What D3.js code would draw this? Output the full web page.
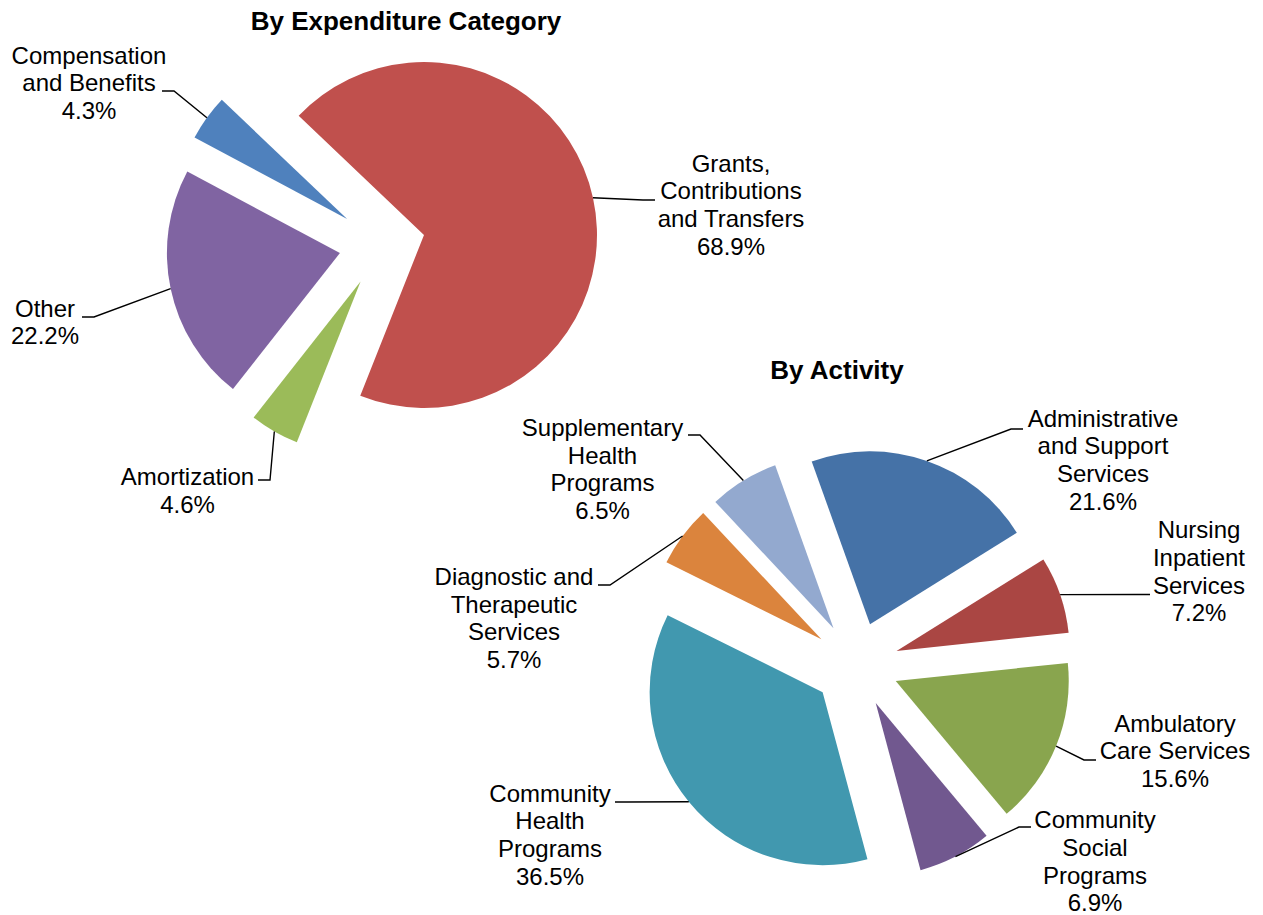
<!DOCTYPE html>
<html>
<head>
<meta charset="utf-8">
<script src="https://cdn.jsdelivr.net/npm/d3@7"></script>
<style>
  body { margin: 0; background: #fff; }
  svg text { font-family: "Liberation Sans", Arial, sans-serif; fill: #000; }
</style>
</head>
<body>
<svg id="chart" width="1263" height="915"></svg>
<script>
// data: expenditure category pie
var catNames = ["Compensation\nand Benefits", "Grants,\nContributions\nand Transfers", "Amortization", "Other"];
var catValues = [4.3, 68.9, 4.6, 22.2];
var catColors = ["#4F81BD", "#C0504D", "#9BBB59", "#8064A2"];

// data: activity pie
var actNames = ["Administrative\nand Support\nServices", "Nursing\nInpatient\nServices", "Ambulatory\nCare Services",
  "Community\nSocial\nPrograms", "Community\nHealth\nPrograms", "Diagnostic and\nTherapeutic\nServices",
  "Supplementary\nHealth\nPrograms"];
var actValues = [21.6, 7.2, 15.6, 6.9, 36.5, 5.7, 6.5];
var actColors = ["#4572A7", "#AA4643", "#89A54E", "#71588F", "#4198AF", "#DB843D", "#93A9CF"];

// label layout: text centre x, first baseline y, leader attach x,y and tail direction
var catLabelPos = [[89, 63.5, 162, 91, 1], [731, 171.7, 655, 200, -1], [187.5, 485, 258, 480, 1], [45, 316.7, 82, 317, 1]];
var actLabelPos = [[1103, 426.7, 1023, 429, -1], [1199, 538.3, 1150, 594.5, -1], [1175, 731.7, 1096, 760, -1],
  [1095, 828.3, 1031, 827, -1], [550, 801.7, 615, 802, 1], [514, 585, 598, 585, 1], [602.5, 436, 688, 435, 1]];

var svg = d3.select("#chart");
var radius = 173;
var explode = 43;
var lineH = 27.6;

function drawPie(opts) {
  var pie = d3.pie().sort(null).value(function(d) { return d; })
    .startAngle(opts.start * Math.PI / 180)
    .endAngle(opts.start * Math.PI / 180 + 2 * Math.PI);
  var arc = d3.arc().innerRadius(0).outerRadius(radius);
  var slices = pie(opts.values);

  var g = svg.append("g").attr("transform", "translate(" + opts.cx + "," + opts.cy + ")");

  slices.forEach(function(s, i) {
    var mid = (s.startAngle + s.endAngle) / 2;
    var ox = Math.sin(mid) * explode, oy = -Math.cos(mid) * explode;
    g.append("path")
      .attr("d", arc(s))
      .attr("transform", "translate(" + ox + "," + oy + ")")
      .attr("fill", opts.colors[i]);

    // leader line from arc edge to label
    var px = opts.cx + ox + Math.sin(mid) * radius;
    var py = opts.cy + oy - Math.cos(mid) * radius;
    var lp = opts.labels[i];
    var elbowX = lp[2] + lp[4] * 12;
    svg.append("path")
      .attr("d", "M" + px + "," + py + "L" + elbowX + "," + lp[3] + "L" + lp[2] + "," + lp[3])
      .attr("fill", "none")
      .attr("stroke", "#000")
      .attr("stroke-width", 1.4);

    var lines = opts.names[i].split("\n").concat([opts.values[i].toFixed(1) + "%"]);
    var t = svg.append("text")
      .attr("text-anchor", "middle")
      .attr("font-size", 24);
    lines.forEach(function(l, j) {
      t.append("tspan").attr("x", lp[0]).attr("y", lp[1] + j * lineH).text(l);
    });
  });

  svg.append("text")
    .attr("x", opts.titleX).attr("y", opts.titleY)
    .attr("text-anchor", "middle")
    .attr("font-size", 26)
    .attr("font-weight", "bold")
    .text(opts.title);
}

drawPie({ title: "By Expenditure Category", titleX: 406, titleY: 29.5, cx: 382, cy: 244.2, start: -61.9,
  values: catValues, names: catNames, colors: catColors, labels: catLabelPos });
drawPie({ title: "By Activity", titleX: 837, titleY: 378.5, cx: 855.9, cy: 664.9, start: -19.7,
  values: actValues, names: actNames, colors: actColors, labels: actLabelPos });
</script>
</body>
</html>
